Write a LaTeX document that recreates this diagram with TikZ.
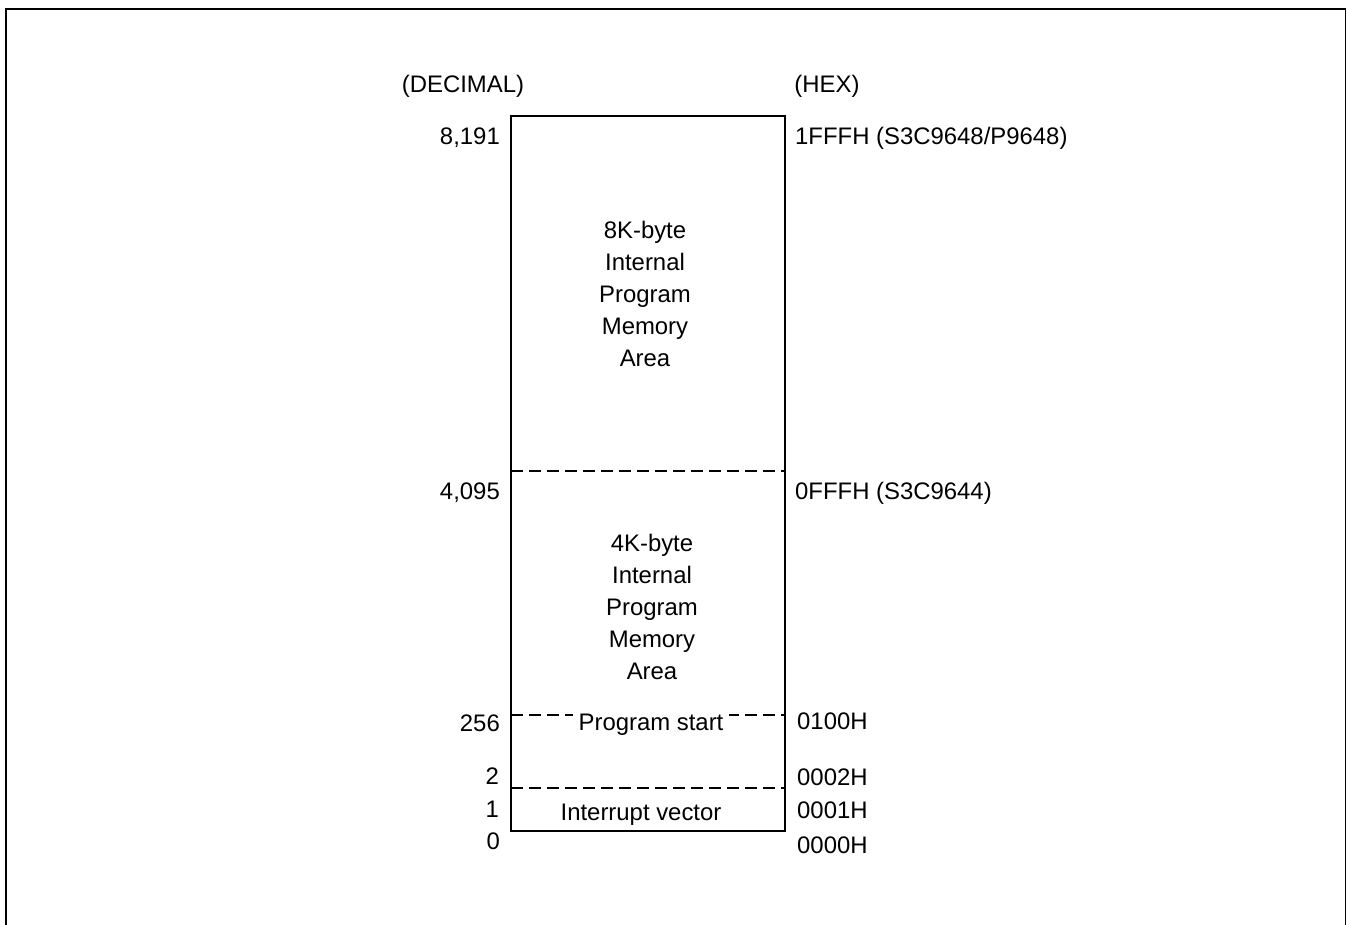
\documentclass[tikz,border=0pt]{standalone}
\usepackage{fontspec}
\setmainfont{Liberation Sans}
\begin{document}
\begin{tikzpicture}[x=1pt,y=-1pt,
  lbl/.style={inner sep=0pt,font=\fontsize{23.9}{32}\selectfont},
  dec/.style={lbl,anchor=base east},
  hex/.style={lbl,anchor=base west},
  frame/.style={line width=2.3pt},
  boxline/.style={line width=2.1pt},
  sep/.style={line width=2pt,dash pattern=on 12pt off 6pt},
  blk/.style={lbl,align=center,anchor=north}]
\useasboundingbox (0,0) rectangle (1347,925);
% outer open frame
\coordinate (fbl) at (6,925);
\coordinate (ftl) at (6,9);
\coordinate (ftr) at (1345.5,9);
\coordinate (fbr) at (1345.5,925);
\draw[frame] (fbl) -- (ftl) -- (ftr);
\draw[line width=1.3pt] (ftr) -- (fbr);
% memory box
\coordinate (tl) at (511,116);
\coordinate (br) at (785,831);
% separators
\coordinate (s1l) at (511,471); \coordinate (s1r) at (785,471);
\coordinate (s2l) at (511,715); \coordinate (s2r) at (785,715);
\coordinate (s3l) at (511,788); \coordinate (s3r) at (785,788);
\draw[sep] (s1l) -- (s1r);
\draw[sep] (s2l) -- (s2r);
\draw[sep] (s3l) -- (s3r);
\draw[boxline] (tl) rectangle (br);
% headers
\node[lbl,anchor=base] (hdec) at (463,92.5) {(DECIMAL)};
\node[lbl,anchor=base] (hhex) at (827,92.5) {(HEX)};
% decimal addresses
\node[dec] (d8191) at (500,144.5) {8,191};
\node[dec] (d4095) at (500,499.5) {4,095};
\node[dec] (d256) at (500,731.5) {256};
\node[dec] (d2) at (499,784.5) {2};
\node[dec] (d1) at (499,817.5) {1};
\node[dec] (d0) at (500,849.5) {0};
% hex addresses
\node[hex] (h1fff) at (795,144.5) {1FFFH (S3C9648/P9648)};
\node[hex] (h0fff) at (795,499.5) {0FFFH (S3C9644)};
\node[hex] (h0100) at (797,729.5) {0100H};
\node[hex] (h0002) at (797,785.5) {0002H};
\node[hex] (h0001) at (797,818.5) {0001H};
\node[hex] (h0000) at (797,853.5) {0000H};
% areas
\node[blk] (a8k) at (645,221) {8K-byte\\Internal\\Program\\Memory\\Area};
\node[blk] (a4k) at (652,534) {4K-byte\\Internal\\Program\\Memory\\Area};
\node[lbl,anchor=base,fill=white,inner xsep=6pt] (pstart) at (651,730) {Program start};
\node[lbl,anchor=base] (ivec) at (641,820) {Interrupt vector};
\end{tikzpicture}
\end{document}
